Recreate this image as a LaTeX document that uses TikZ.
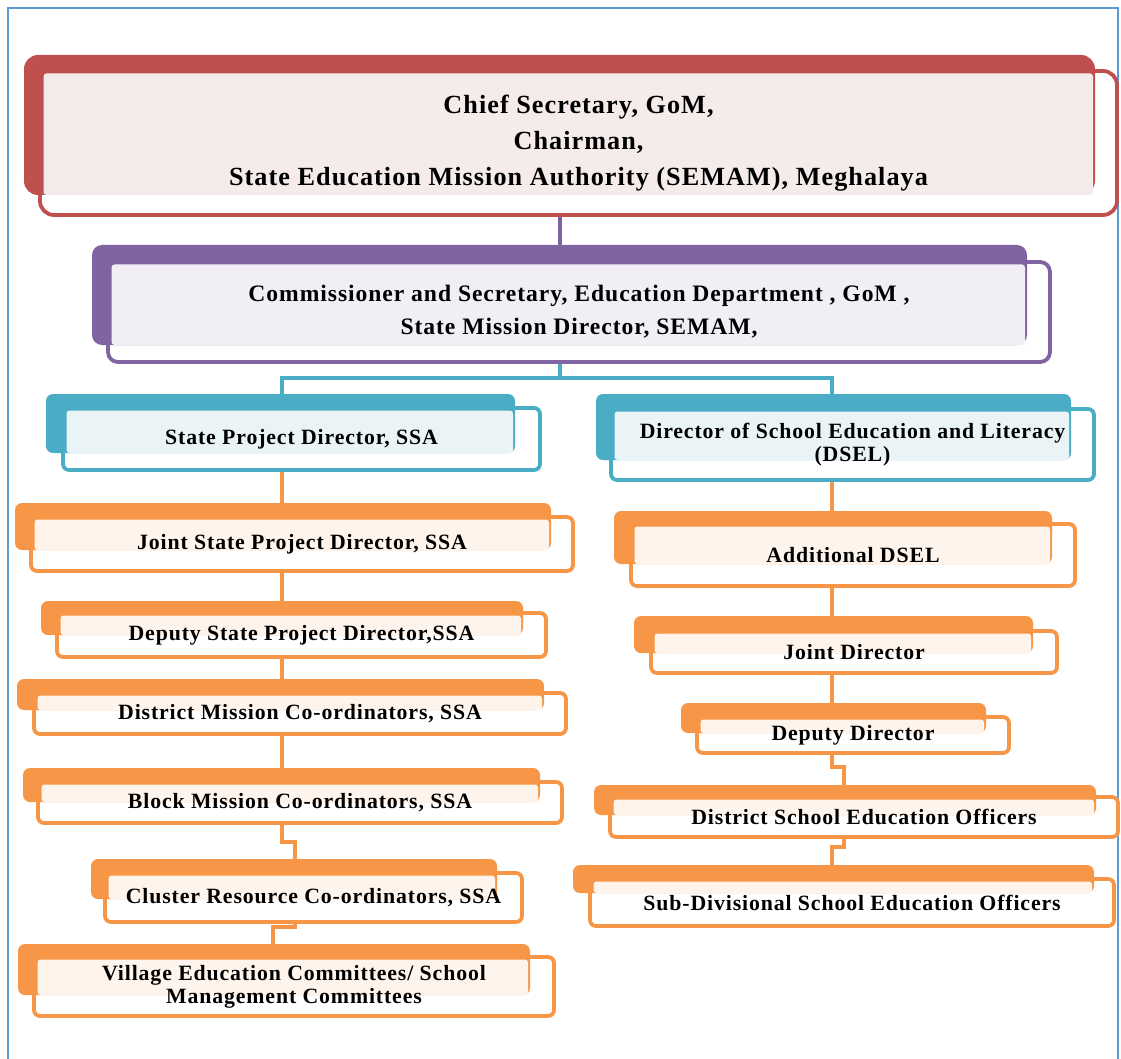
\documentclass[tikz,border=0pt]{standalone}
\usepackage{fontspec}
\setmainfont{Liberation Serif}[LetterSpace=4]
\usetikzlibrary{calc,fit}

\definecolor{boxred}{HTML}{C0504D}
\definecolor{boxredlt}{HTML}{F5EBEB}
\definecolor{boxpur}{HTML}{8064A2}
\definecolor{boxpurlt}{HTML}{F1EFF5}
\definecolor{boxteal}{HTML}{4BACC6}
\definecolor{boxteallt}{HTML}{EAF4F7}
\definecolor{boxora}{HTML}{F79646}
\definecolor{boxoralt}{HTML}{FEF4EC}
\definecolor{pageblue}{HTML}{5B9BD5}

\pgfdeclarelayer{lines}
\pgfsetlayers{lines,main}

% #1 box style, #2 name, #3 colour, #4 #5 back corners, #6 #7 frame corners, #8 text
\newcommand{\orgbox}[8][]{%
  \node[framebox, draw=#3, fit={(#6) (#7)}, #1] (#2-f) {};
  \node[backbox, fill=#3, fit={(#4) (#5)}, #1] (#2-b) {};
  \fill[#3lt, rounded corners=3pt] ($(#6)+(3.5,2.5)$) rectangle ($(#5)+(-2,0)$);
  \node[boxtext, #1] (#2) at (#2-f.center) {#8};
}

\begin{document}
\begin{tikzpicture}[x=1pt, y=-1pt]
\tikzstyle{framebox}=[rectangle, rounded corners=6pt, line width=3.8pt, fill=white, inner sep=0pt, outer sep=0pt]
\tikzstyle{backbox}=[rectangle, rounded corners=7pt, inner sep=0pt, outer sep=0pt]
\tikzstyle{boxtext}=[align=center, inner sep=0pt, font=\bfseries\fontsize{21.8}{23}\selectfont]
\tikzstyle{link}=[line width=4pt]
\tikzstyle{toptext}=[rounded corners=14pt, font=\bfseries\fontsize{26.2}{36}\selectfont]
\tikzstyle{midtext}=[rounded corners=10pt, font=\bfseries\fontsize{23.6}{33}\selectfont]

\useasboundingbox (0,0) rectangle (1121,1059);
\draw[pageblue, line width=2pt] (8,1062) -- (8,8) -- (1118,8) -- (1118,1062);

\orgbox[toptext]{chief}{boxred}{24,55}{1095,195}{40,71}{1117,215}{Chief Secretary, GoM,\\ Chairman,\\ State Education Mission Authority (SEMAM), Meghalaya}
\orgbox[midtext]{comm}{boxpur}{92,245}{1027,345}{108,262}{1050,362}{Commissioner and Secretary, Education Department , GoM ,\\ State Mission Director, SEMAM,}

% SSA side
\orgbox{spd}{boxteal}{46,394}{515,453}{63,408}{540,470}{State Project Director, SSA}
\orgbox{jspd}{boxora}{15,503}{551,550}{31,517}{573,571}{Joint State Project Director, SSA}
\orgbox{dspd}{boxora}{41,601}{523,635}{57,613}{546,657}{Deputy State Project Director,SSA}
\orgbox{dmc}{boxora}{17,679}{544,710}{34,693}{566,734}{District Mission Co-ordinators, SSA}
\orgbox{bmc}{boxora}{23,768}{540,802}{38,782}{562,823}{Block Mission Co-ordinators, SSA}
\orgbox{crc}{boxora}{91,859}{497,899}{105,873}{522,922}{Cluster Resource Co-ordinators, SSA}
\orgbox{vec}{boxora}{18,944}{530,995}{34,957}{554,1016}{Village Education Committees/ School\\ Management Committees}

% DSEL side
\orgbox{dsel}{boxteal}{596,394}{1071,460}{611,409}{1094,480}{Director of School Education and Literacy\\ (DSEL)}
\orgbox{adsel}{boxora}{614,511}{1052,564}{631,524}{1075,586}{Additional DSEL}
\orgbox{jd}{boxora}{634,616}{1033,653}{651,631}{1057,673}{Joint Director}
\orgbox{dd}{boxora}{681,703}{986,733}{697,717}{1009,753}{Deputy Director}
\orgbox{dseo}{boxora}{594,785}{1096,815}{610,797}{1118,837}{District School Education Officers}
\orgbox{sdseo}{boxora}{573,865}{1094,893}{590,879}{1114,926}{Sub-Divisional School Education Officers}

\coordinate (midc) at (560,0);
\coordinate (fork) at (560,378);
\coordinate (lcol) at (282,0);
\coordinate (ljog) at (295,0);
\coordinate (ljog2) at (273,0);
\coordinate (rcol) at (832,0);
\coordinate (rjog) at (844,0);

\begin{pgfonlayer}{lines}
\draw[link, boxpur] (midc |- chief-f.south) -- (midc |- comm-b.north);
\draw[link, boxteal] (midc |- comm-f.south) -- (fork);
\draw[link, boxteal] (lcol |- spd-b.north) |- (fork) -| (rcol |- dsel-b.north);
\draw[link, boxora] (lcol |- spd-f.south) -- (lcol |- jspd-b.north);
\draw[link, boxora] (lcol |- jspd-f.south) -- (lcol |- dspd-b.north);
\draw[link, boxora] (lcol |- dspd-f.south) -- (lcol |- dmc-b.north);
\draw[link, boxora] (lcol |- dmc-f.south) -- (lcol |- bmc-b.north);
\draw[link, boxora] (lcol |- bmc-f.south) -- ++(0,19) -| (ljog |- crc-b.north);
\draw[link, boxora] (ljog |- crc-f.south) -- ++(0,5) -| (ljog2 |- vec-b.north);
\draw[link, boxora] (rcol |- dsel-f.south) -- (rcol |- adsel-b.north);
\draw[link, boxora] (rcol |- adsel-f.south) -- (rcol |- jd-b.north);
\draw[link, boxora] (rcol |- jd-f.south) -- (rcol |- dd-b.north);
\draw[link, boxora] (rcol |- dd-f.south) -- ++(0,14) -| (rjog |- dseo-b.north);
\draw[link, boxora] (rjog |- dseo-f.south) -- ++(0,10) -| (rcol |- sdseo-b.north);
\end{pgfonlayer}
\end{tikzpicture}
\end{document}
